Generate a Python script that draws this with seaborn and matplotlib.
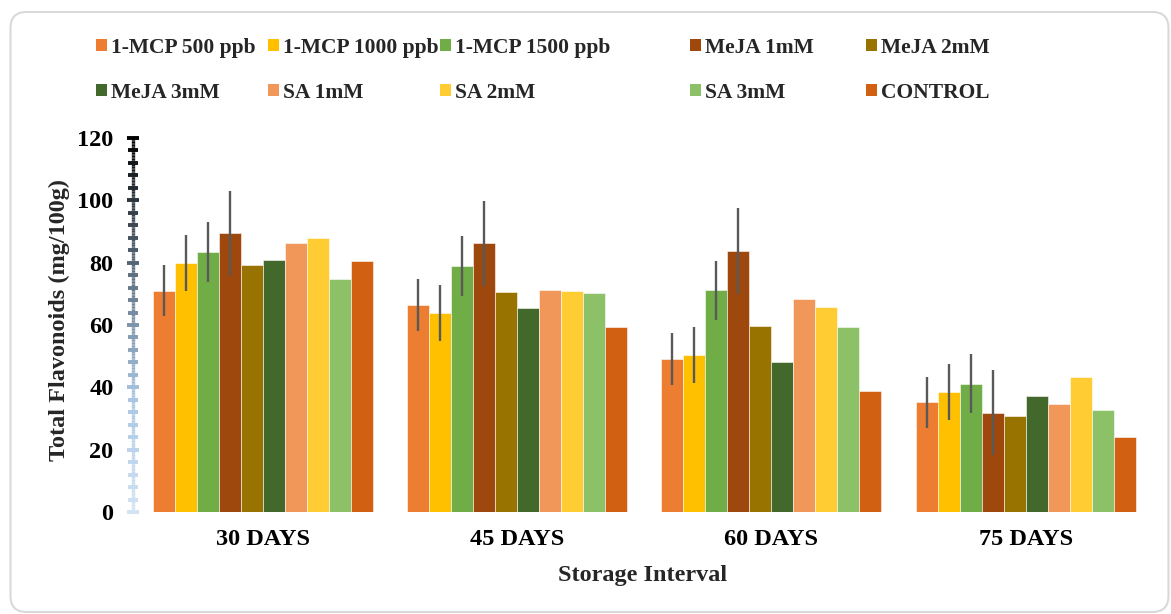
import numpy as np
import pandas as pd
import matplotlib
matplotlib.use("Agg")
import matplotlib.pyplot as plt
import matplotlib.transforms as mtransforms
import seaborn as sns
from matplotlib.collections import LineCollection
from matplotlib.colors import LinearSegmentedColormap, Normalize
from matplotlib.patches import FancyBboxPatch, Patch

# ---- data -----------------------------------------------------------------
intervals = ["30 DAYS", "45 DAYS", "60 DAYS", "75 DAYS"]
treatments = ["1-MCP 500 ppb", "1-MCP 1000 ppb", "1-MCP 1500 ppb", "MeJA 1mM",
              "MeJA 2mM", "MeJA 3mM", "SA 1mM", "SA 2mM", "SA 3mM", "CONTROL"]

mcp_500 = [71.0, 66.4, 49.1, 35.2]
mcp_1000 = [80.0, 63.8, 50.4, 38.5]
mcp_1500 = [83.4, 78.9, 71.1, 41.2]
meja_1 = [89.4, 86.2, 83.7, 31.9]
meja_2 = [79.2, 70.5, 59.8, 30.7]
meja_3 = [80.8, 65.4, 48.0, 37.1]
sa_1 = [86.2, 71.2, 68.2, 34.5]
sa_2 = [88.0, 70.9, 65.9, 43.3]
sa_3 = [74.6, 70.4, 59.2, 32.6]
control = [80.5, 59.5, 38.8, 24.0]

# standard deviations (only the 1-MCP and MeJA 1mM series carry error bars)
err_mcp_500 = [8.2, 8.3, 8.2, 8.2]
err_mcp_1000 = [9.0, 9.0, 9.0, 8.9]
err_mcp_1500 = [9.5, 9.5, 9.5, 9.5]
err_meja_1 = [13.7, 13.6, 13.7, 13.7]

colors = ["#ED7D31", "#FFC000", "#70AD47", "#9E480E", "#997300",
          "#43682B", "#F1975A", "#FFCD33", "#8CC168", "#D26012"]

series = [mcp_500, mcp_1000, mcp_1500, meja_1, meja_2, meja_3, sa_1, sa_2, sa_3, control]
errors = {"1-MCP 500 ppb": err_mcp_500, "1-MCP 1000 ppb": err_mcp_1000,
          "1-MCP 1500 ppb": err_mcp_1500, "MeJA 1mM": err_meja_1}

df = pd.DataFrame([
    {"Interval": iv, "Treatment": tr, "Value": v}
    for tr, vals in zip(treatments, series)
    for iv, v in zip(intervals, vals)
])

# ---- style ----------------------------------------------------------------
sns.set_theme(style="white")
plt.rcParams["font.family"] = ["Liberation Serif", "DejaVu Serif"]
plt.rcParams["font.weight"] = "bold"
plt.rcParams["axes.labelweight"] = "bold"

AXFS = 17.5
W, H, DPI = 1171, 614, 100
fig = plt.figure(figsize=(W / DPI, H / DPI), dpi=DPI)
ax = fig.add_axes([133 / W, (H - 512) / H, (1153 - 133) / W, (512 - 138) / H])

palette = dict(zip(treatments, colors))
sns.barplot(data=df, x="Interval", y="Value", hue="Treatment",
            order=intervals, hue_order=treatments, palette=palette,
            width=0.865, gap=0, saturation=1, errorbar=None,
            edgecolor=(1, 1, 1, 0.55), linewidth=0.7, legend=False, ax=ax)

# error bars centred on the drawn bars
for tr, container in zip(treatments, ax.containers):
    if tr not in errors:
        continue
    xs = [p.get_x() + p.get_width() / 2 for p in container.patches]
    ys = [p.get_height() for p in container.patches]
    ax.errorbar(xs, ys, yerr=errors[tr], fmt="none", ecolor="#595959",
                elinewidth=1.7, capsize=0, zorder=5)

ax.set_xlim(-0.51, 3.5)
ax.set_ylim(0, 120)
ax.set_yticks(range(0, 121, 20))
for s in ax.spines.values():
    s.set_visible(False)
ax.tick_params(axis="y", length=0, pad=14, labelsize=AXFS, labelcolor="black")
ax.tick_params(axis="x", length=0, pad=12, labelsize=AXFS, labelcolor="black")
for lab in ax.get_xticklabels() + ax.get_yticklabels():
    lab.set_fontweight("bold")

# gradient y axis line with crossing ticks
cmap = LinearSegmentedColormap.from_list(
    "axis_grad", [(0.0, "#d2e3f4"), (0.3, "#a9c6e3"), (0.55, "#71879c"),
                  (0.8, "#353f4a"), (1.0, "#000000")])
norm = Normalize(0, 120)
blend = mtransforms.blended_transform_factory(ax.transAxes, ax.transData)
ys = np.linspace(0, 120, 241)
segs = [[(0, a), (0, b)] for a, b in zip(ys[:-1], ys[1:])]
lc = LineCollection(segs, colors=cmap(norm((ys[:-1] + ys[1:]) / 2)),
                    linewidths=2.4, transform=blend, clip_on=False, zorder=6)
ax.add_collection(lc)
for yv in range(0, 121, 4):
    major = yv % 20 == 0
    ax.plot([0], [yv], marker="_", ms=9.0 if major else 7.2, mew=2.8,
            color=cmap(norm(yv)), transform=blend, clip_on=False, zorder=7)

ax.set_xlabel("Storage Interval", fontsize=AXFS, fontweight="bold", va="center")
ax.set_ylabel("Total Flavonoids (mg/100g)", fontsize=AXFS, fontweight="bold", va="center")
ax.xaxis.set_label_coords(0.5, -(576 - 512) / (512 - 138))
ax.yaxis.set_label_coords((59 - 133) / (1153 - 133), (512 - 320) / (512 - 138))

# legend laid out as five columns of two entries
handles = [Patch(facecolor=c, edgecolor="none") for c in colors]
col_x = [96, 268, 440, 690, 866]
for k, x in enumerate(col_x):
    idx = [k, k + 5]
    fig.legend([handles[i] for i in idx], [treatments[i] for i in idx],
               loc="upper left", bbox_to_anchor=(x / W, 1 - 38 / H),
               frameon=False, ncol=1, borderpad=0, borderaxespad=0,
               handlelength=0.5, handleheight=0.5, handletextpad=0.2,
               labelspacing=1.14, prop={"size": 15.5, "weight": "bold"})

# rounded outer frame
frame = FancyBboxPatch((10.5, 2), 1158, 600, boxstyle="round,pad=0,rounding_size=16",
                       transform=None, facecolor="none", edgecolor="#d9d9d9", linewidth=1.5)
fig.add_artist(frame)

fig.savefig("out.png", dpi=DPI, facecolor="white")
